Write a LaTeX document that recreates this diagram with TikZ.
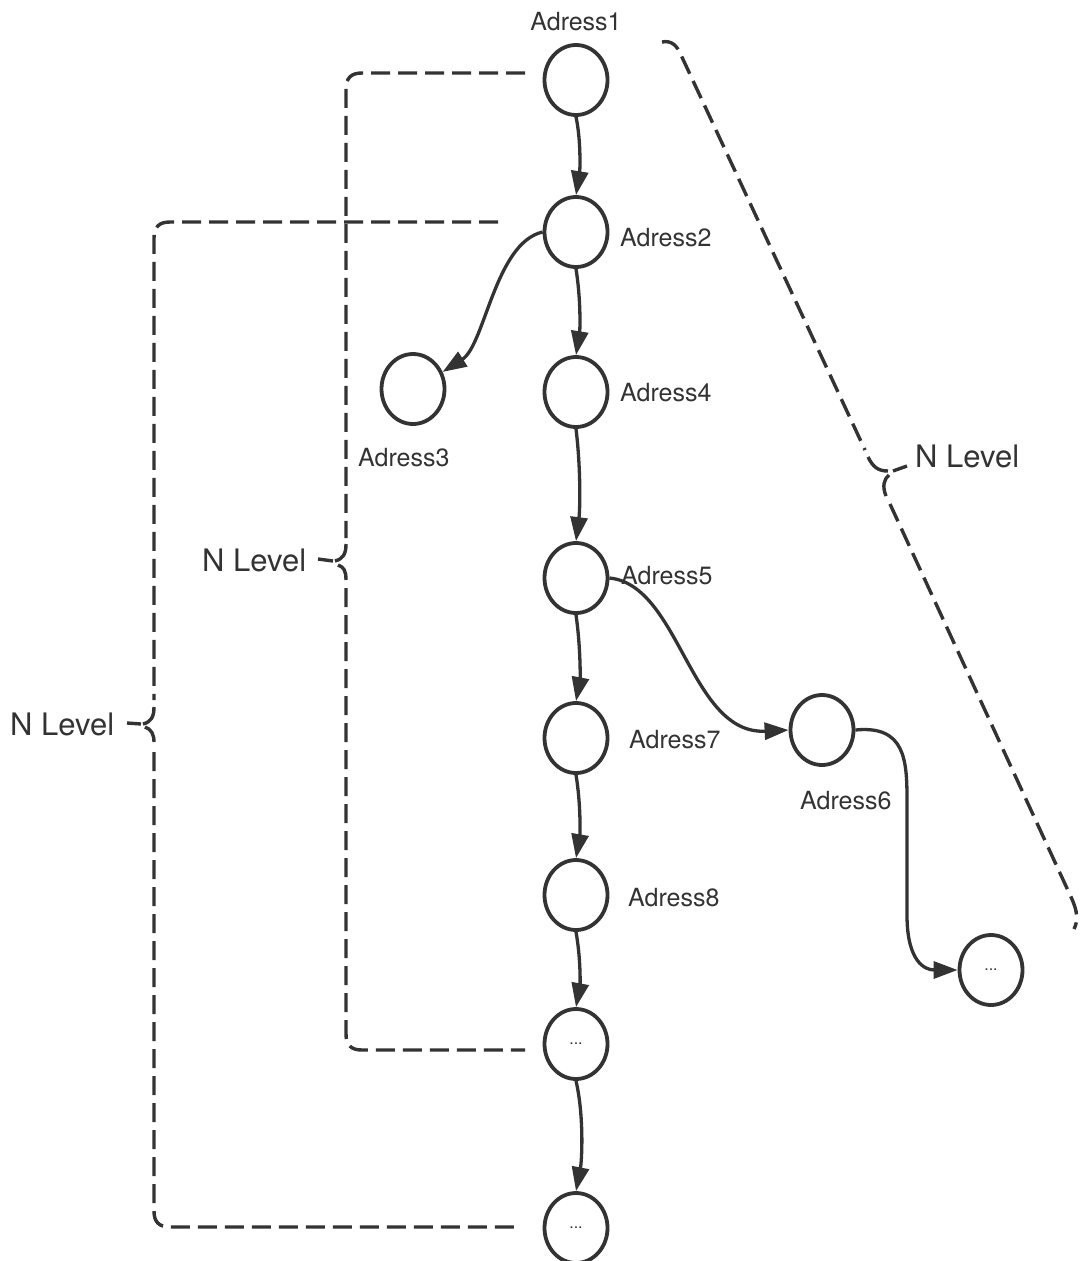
\documentclass[tikz,border=0pt]{standalone}
\usepackage{fontspec}
\setmainfont{TeX Gyre Heros}
\usetikzlibrary{arrows.meta,shapes.geometric}
\definecolor{ink}{HTML}{333333}
\begin{document}
\begin{tikzpicture}[x=1pt,y=-1pt,
  vtx/.style={draw=ink,line width=3.8pt,ellipse,minimum width=63pt,minimum height=70pt,inner sep=0pt,font=\fontsize{16}{16}\selectfont,text=ink},
  lbl/.style={text=ink,font=\fontsize{25}{30}\selectfont,inner sep=0pt},
  lvl/.style={text=ink,font=\fontsize{31}{36}\selectfont,inner sep=0pt},
  arr/.style={draw=ink,line width=3.3pt,-{Triangle[length=24pt,width=17pt]}},
  brk/.style={draw=ink,line width=3.4pt,dash pattern=on 19pt off 8pt},
  tip/.style={draw=ink,line width=3.4pt}]
\useasboundingbox (0,0) rectangle (1083,1261);

% nodes
\node[vtx] (a1) at (576,80) {};
\node[vtx] (a2) at (576,232) {};
\node[vtx] (a3) at (413,389) {};
\node[vtx] (a4) at (576,392) {};
\node[vtx] (a5) at (576,578) {};
\node[vtx] (a6) at (822,730) {};
\node[vtx] (a7) at (576,738) {};
\node[vtx] (a8) at (576,895) {};
\node[vtx] (d1) at (576,1044) {...};
\node[vtx] (d2) at (576,1228) {...};
\node[vtx] (dr) at (991,970) {...};

% labels
\node[lbl,anchor=base] (l1) at (576,30) {Adress1};
\node[lbl,anchor=base west] (l2) at (620,246) {Adress2};
\node[lbl,anchor=base west] (l3) at (358,466) {Adress3};
\node[lbl,anchor=base west] (l4) at (620,401) {Adress4};
\node[lbl,anchor=base west] (l5) at (621,584) {Adress5};
\node[lbl,anchor=base west] (l7) at (629,748) {Adress7};
\node[lbl,anchor=base west] (l6) at (800,809) {Adress6};
\node[lbl,anchor=base west] (l8) at (628,906) {Adress8};

\node[lvl,anchor=base west] (n1) at (202,571) {N Level};
\node[lvl,anchor=base west] (n2) at (10,735) {N Level};
\node[lvl,anchor=base west] (n3) at (915,467) {N Level};

% connectors
\draw[arr] (a1.south) .. controls (581,140) and (580,170) .. (a2.north);
\draw[arr] (a2.south) .. controls (581,300) and (580,330) .. (a4.north);
\draw[arr] (a4.south) .. controls (581,470) and (580,510) .. (a5.north);
\draw[arr] (a5.south) .. controls (581,650) and (580,680) .. (a7.north);
\draw[arr] (a7.south) .. controls (581,805) and (580,835) .. (a8.north);
\draw[arr] (a8.south) .. controls (581,960) and (580,985) .. (d1.north);
\draw[arr] (d1.south) .. controls (584,1115) and (582,1160) .. (d2.north);
\draw[arr] (a2.west) .. controls (495,243) and (485,345) .. (a3.30);
\draw[arr] (a5.east) .. controls (680,585) and (690,735) .. (a6.west);
\draw[arr] (a6.east) .. controls (905,725) and (907,760) .. (907,800) -- (907,915) .. controls (907,962) and (925,970) .. (dr.west);

% inner left brace
\draw[brk] (525,73) -- (362,73) .. controls (351,73) and (346,78) .. (346,89) -- (346,538);
\draw[tip] (346,544) .. controls (346,554) and (343,559) .. (335,561);
\draw[tip] (333,561) -- (318,559);
\draw[tip] (338,565) .. controls (344,567) and (346,571) .. (346,580);
\draw[brk] (346,588) -- (346,1034) .. controls (346,1045) and (351,1050) .. (362,1050) -- (525,1050);
% outer left brace
\draw[brk] (498,222) -- (170,222) .. controls (159,222) and (154,227) .. (154,238) -- (154,700);
\draw[tip] (154,707) .. controls (154,717) and (151,722) .. (143,724);
\draw[tip] (141,724) -- (127,723);
\draw[tip] (145,727) .. controls (151,729) and (154,734) .. (154,742);
\draw[brk] (154,752) -- (154,1211) .. controls (154,1222) and (159,1227) .. (170,1227) -- (517,1227);
% right brace
\draw[brk] (662,42) .. controls (672,40) and (677,46) .. (681,55) -- (865,450);
\draw[tip] (868,457) .. controls (873,467) and (878,471) .. (888,471);
\draw[tip] (893,471) -- (907,466);
\draw[tip] (889,475) .. controls (884,479) and (882,486) .. (886,496);
\draw[brk] (890,504) -- (1071,897) .. controls (1078,912) and (1078,921) .. (1074,929);
\end{tikzpicture}
\end{document}
